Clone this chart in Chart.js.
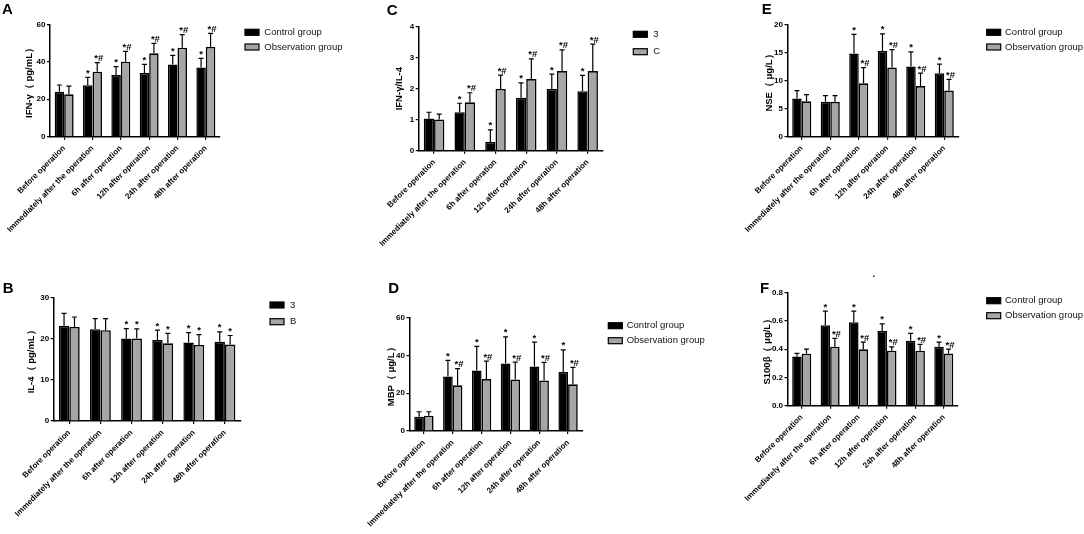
<!DOCTYPE html>
<html><head><meta charset="utf-8">
<script src="https://cdn.jsdelivr.net/npm/chart.js@4.4.1/dist/chart.umd.min.js"></script>
<style>
html,body{margin:0;padding:0;background:#fff;}
#wrap{position:relative;width:1084px;height:534px;overflow:hidden;background:#fff;}
canvas{position:absolute;}
.letter{position:absolute;font:bold 15px "Liberation Sans",Arial,sans-serif;line-height:15px;color:#000;}
.dot{position:absolute;font:bold 9px "Liberation Sans",Arial,sans-serif;line-height:9px;color:#000;}
</style></head><body><div id="wrap"></div>
<script>
// ---------- DATA ----------
const categories = ["Before operation","Immediately after the operation","6h after operation","12h after operation","24h after operation","48h after operation"];

// A: IFN-γ
const titleA = "IFN-γ（ pg/mL）";
const legendA = ["Control group","Observation group"];
const ticksA = [0,20,40,60];
const tickLabelsA = ["0","20","40","60"];
const ctrlA = [24.0,27.4,32.9,34.0,38.5,36.9];
const ctrlA_sd = [3.6,4.3,4.5,4.6,4.9,4.9];
const obsA = [22.6,34.7,40.0,44.5,47.5,48.0];
const obsA_sd = [4.4,4.8,5.6,5.3,7.0,7.2];
const sigA_ctrl = ["","*","*","*","*","*"];
const sigA_obs = ["","*#","*#","*#","*#","*#"];

// B: IL-4
const titleB = "IL-4（ pg/mL）";
const legendB = ["3","B"];
const ticksB = [0,10,20,30];
const tickLabelsB = ["0","10","20","30"];
const ctrlB = [23.2,22.3,20.1,19.7,19.1,19.3];
const ctrlB_sd = [3.0,2.6,2.4,2.4,2.4,2.4];
const obsB = [22.9,22.1,20.1,18.9,18.5,18.6];
const obsB_sd = [2.4,2.8,2.3,2.4,2.5,2.2];
const sigB_ctrl = ["","","*","*","*","*"];
const sigB_obs = ["","","*","*","*","*"];

// C: IFN-γ/IL-4
const titleC = "IFN-γ/IL-4";
const legendC = ["3","C"];
const ticksC = [0,1,2,3,4];
const tickLabelsC = ["0","1","2","3","4"];
const ctrlC = [1.04,1.24,0.28,1.71,1.99,1.92];
const ctrlC_sd = [0.20,0.29,0.39,0.48,0.48,0.51];
const obsC = [1.01,1.56,1.99,2.31,2.57,2.57];
const obsC_sd = [0.17,0.31,0.45,0.65,0.68,0.87];
const sigC_ctrl = ["","*","*","*","*","*"];
const sigC_obs = ["","*#","*#","*#","*#","*#"];

// D: MBP
const titleD = "MBP（ μg/L）";
const legendD = ["Control group","Observation group"];
const ticksD = [0,20,40,60];
const tickLabelsD = ["0","20","40","60"];
const ctrlD = [7.6,28.8,32.1,35.8,34.2,31.2];
const ctrlD_sd = [2.6,8.6,12.7,14.0,12.9,11.8];
const obsD = [8.1,24.2,27.5,27.3,26.8,24.7];
const obsD_sd = [2.1,8.8,9.5,9.2,9.5,9.0];
const sigD_ctrl = ["","*","*","*","*","*"];
const sigD_obs = ["","*#","*#","*#","*#","*#"];

// E: NSE
const titleE = "NSE（ μg/L）";
const legendE = ["Control group","Observation group"];
const ticksE = [0,5,10,15,20];
const tickLabelsE = ["0","5","10","15","20"];
const ctrlE = [6.8,6.2,14.8,15.25,12.5,11.3];
const ctrlE_sd = [1.4,1.1,3.4,3.05,2.6,1.6];
const obsE = [6.3,6.2,9.5,12.3,9.0,8.2];
const obsE_sd = [1.2,1.1,2.8,3.2,2.3,2.0];
const sigE_ctrl = ["","","*","*","*","*"];
const sigE_obs = ["","","*#","*#","*#","*#"];

// F: S100β
const titleF = "S100β（ μg/L）";
const legendF = ["Control group","Observation group"];
const ticksF = [0,0.2,0.4,0.6,0.8];
const tickLabelsF = ["0.0","0.2","0.4","0.6","0.8"];
const ctrlF = [0.349,0.569,0.590,0.528,0.460,0.418];
const ctrlF_sd = [0.021,0.100,0.080,0.052,0.052,0.032];
const obsF = [0.368,0.418,0.399,0.389,0.389,0.370];
const obsF_sd = [0.032,0.059,0.051,0.028,0.045,0.030];
const sigF_ctrl = ["","*","*","*","*","*"];
const sigF_obs = ["","*#","*#","*#","*#","*#"];

// ---------- LAYOUT ----------
const FONT = '"Liberation Sans", Arial, sans-serif';
const CTRL_COLOR = '#000000';
const OBS_COLOR = '#a6a6a6';

const panels = [
  {letter:'A', lx:2, ly:3.3, box:{x:0,y:0,w:360,h:250}, area:{l:50,t:24.3,r:220,b:136.7}, titleX:29,
   leg:{bx:245,tx:264.3,y1:32.3,y2:47}, title:titleA, legend:legendA, ticks:ticksA, tickLabels:tickLabelsA,
   ctrl:ctrlA, ctrlSd:ctrlA_sd, obs:obsA, obsSd:obsA_sd, sigC:sigA_ctrl, sigO:sigA_obs},
  {letter:'B', lx:2.7, ly:281.7, box:{x:0,y:250,w:360,h:284}, area:{l:53.7,t:47.7,r:240.5,b:171}, titleX:31,
   leg:{bx:270,tx:290,y1:55,y2:71.7}, title:titleB, legend:legendB, ticks:ticksB, tickLabels:tickLabelsB,
   ctrl:ctrlB, ctrlSd:ctrlB_sd, obs:obsB, obsSd:obsB_sd, sigC:sigB_ctrl, sigO:sigB_obs},
  {letter:'C', lx:386.7, ly:4, box:{x:360,y:0,w:360,h:250}, area:{l:58.7,t:26.7,r:243,b:150.7}, titleX:39,
   leg:{bx:273.3,tx:293.3,y1:34.3,y2:51.7}, title:titleC, legend:legendC, ticks:ticksC, tickLabels:tickLabelsC,
   ctrl:ctrlC, ctrlSd:ctrlC_sd, obs:obsC, obsSd:obsC_sd, sigC:sigC_ctrl, sigO:sigC_obs},
  {letter:'D', lx:388.3, ly:281.7, box:{x:360,y:250,w:360,h:284}, area:{l:49.5,t:67.7,r:222.5,b:181}, titleX:31,
   leg:{bx:248.3,tx:266.7,y1:75.7,y2:90.7}, title:titleD, legend:legendD, ticks:ticksD, tickLabels:tickLabelsD,
   ctrl:ctrlD, ctrlSd:ctrlD_sd, obs:obsD, obsSd:obsD_sd, sigC:sigD_ctrl, sigO:sigD_obs},
  {letter:'E', lx:761.7, ly:3.3, box:{x:720,y:0,w:364,h:250}, area:{l:67.5,t:24.3,r:238.5,b:136.7}, titleX:49,
   leg:{bx:266.7,tx:285,y1:32.3,y2:47}, title:titleE, legend:legendE, ticks:ticksE, tickLabels:tickLabelsE,
   ctrl:ctrlE, ctrlSd:ctrlE_sd, obs:obsE, obsSd:obsE_sd, sigC:sigE_ctrl, sigO:sigE_obs},
  {letter:'F', lx:760, ly:281.7, box:{x:720,y:250,w:364,h:284}, area:{l:67.5,t:42.7,r:238,b:155.7}, titleX:47,
   leg:{bx:266.7,tx:285,y1:50.7,y2:65.7}, title:titleF, legend:legendF, ticks:ticksF, tickLabels:tickLabelsF,
   ctrl:ctrlF, ctrlSd:ctrlF_sd, obs:obsF, obsSd:obsF_sd, sigC:sigF_ctrl, sigO:sigF_obs}
];

const wrap = document.getElementById('wrap');

function makePanel(p){
  const cv = document.createElement('canvas');
  cv.width = p.box.w; cv.height = p.box.h;
  cv.style.left = p.box.x + 'px'; cv.style.top = p.box.y + 'px';
  cv.style.width = p.box.w + 'px'; cv.style.height = p.box.h + 'px';
  wrap.appendChild(cv);

  const lt = document.createElement('div');
  lt.className = 'letter'; lt.textContent = p.letter;
  lt.style.left = p.lx + 'px'; lt.style.top = (p.ly - 2) + 'px';
  wrap.appendChild(lt);

  const sdLists = [p.ctrlSd, p.obsSd];
  const sigLists = [p.sigC, p.sigO];

  const errPlugin = {
    id: 'errAnno' + p.letter,
    afterDatasetsDraw(chart){
      const ctx = chart.ctx;
      const ys = chart.scales.y;
      chart.data.datasets.forEach((ds, i) => {
        const meta = chart.getDatasetMeta(i);
        meta.data.forEach((bar, j) => {
          const top = ys.getPixelForValue(ds.data[j] + sdLists[i][j]);
          const x = bar.x;
          ctx.save();
          ctx.strokeStyle = '#000';
          ctx.lineWidth = 1.2;
          ctx.beginPath();
          ctx.moveTo(x, bar.y);
          ctx.lineTo(x, top);
          ctx.moveTo(x - 2.5, top);
          ctx.lineTo(x + 2.5, top);
          ctx.stroke();
          const s = sigLists[i][j];
          if (s) {
            ctx.font = 'bold 9.5px ' + FONT;
            ctx.fillStyle = '#000';
            ctx.textAlign = 'center';
            ctx.textBaseline = 'alphabetic';
            ctx.fillText(s, x + (s.length > 1 ? 1.5 : 0), top - 1.5);
          }
          ctx.restore();
        });
      });
    },
    afterDraw(chart){
      const ctx = chart.ctx;
      const L = p.leg;
      const rows = [[L.y1, CTRL_COLOR], [L.y2, OBS_COLOR]];
      rows.forEach((r, k) => {
        ctx.save();
        ctx.fillStyle = r[1];
        ctx.fillRect(L.bx, r[0] - 3, 14, 6);
        ctx.strokeStyle = '#000';
        ctx.lineWidth = 1.2;
        ctx.strokeRect(L.bx, r[0] - 3, 14, 6);
        ctx.fillStyle = '#111';
        ctx.font = '9.5px ' + FONT;
        ctx.textAlign = 'left';
        ctx.textBaseline = 'middle';
        ctx.fillText(p.legend[k], L.tx, r[0]);
        ctx.restore();
      });
    }
  };

  new Chart(cv, {
    type: 'bar',
    data: {
      labels: categories,
      datasets: [
        {label: p.legend[0], data: p.ctrl, backgroundColor: CTRL_COLOR, borderColor: '#000', borderWidth: 1.5},
        {label: p.legend[1], data: p.obs, backgroundColor: OBS_COLOR, borderColor: '#000', borderWidth: 1.6}
      ]
    },
    options: {
      responsive: false,
      animation: false,
      devicePixelRatio: 1,
      categoryPercentage: 0.67,
      barPercentage: 1.0,
      layout: {padding: {left: 0, top: p.area.t, right: p.box.w - p.area.r, bottom: 0}},
      plugins: {legend: {display: false}, tooltip: {enabled: false}},
      scales: {
        x: {
          type: 'category',
          offset: true,
          grid: {display: true, drawOnChartArea: false, drawTicks: true, tickLength: 3, color: '#000', lineWidth: 1.2, offset: false},
          border: {display: true, color: '#000', width: 1.5},
          ticks: {maxRotation: 45, minRotation: 45, autoSkip: false, color: '#000', padding: 4,
                  font: {family: FONT, size: 8, weight: 'bold'}},
          afterFit(s){ s.height = p.box.h - p.area.b; }
        },
        y: {
          min: p.ticks[0],
          max: p.ticks[p.ticks.length - 1],
          afterBuildTicks(s){ s.ticks = p.ticks.map(v => ({value: v})); },
          grid: {display: true, drawOnChartArea: false, drawTicks: true, tickLength: 3, color: '#000', lineWidth: 1.2},
          border: {display: true, color: '#000', width: 1.5},
          ticks: {color: '#000', padding: 1.5, font: {family: FONT, size: 8, weight: 'bold'},
                  callback: (v, i) => p.tickLabels[i]},
          title: {display: true, text: p.title, color: '#000', font: {family: FONT, size: 9.5, weight: 'bold'},
                  padding: {top: p.titleX - 5.7, bottom: 0}},
          afterFit(s){ s.width = p.area.l; }
        }
      }
    },
    plugins: [errPlugin]
  });
}

panels.forEach(makePanel);

const dot = document.createElement('div');
dot.className = 'dot'; dot.textContent = '.';
dot.style.left = '872.5px'; dot.style.top = '270px';
wrap.appendChild(dot);
</script>
</body></html>
